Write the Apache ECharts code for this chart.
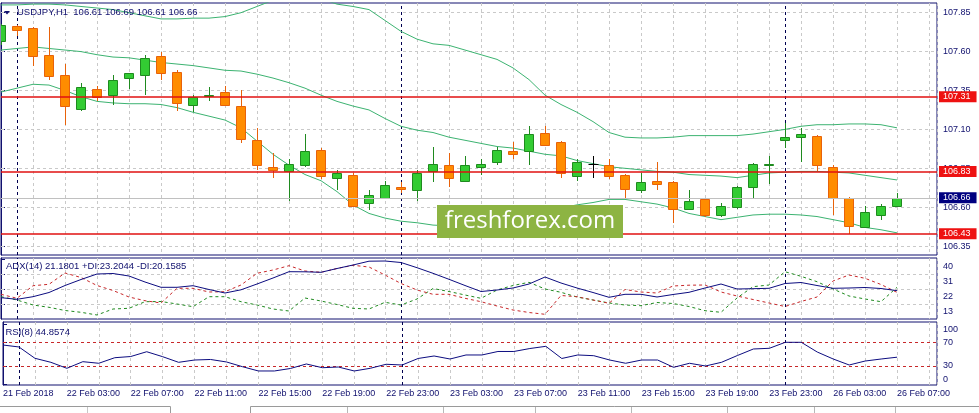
<!DOCTYPE html>
<html><head><meta charset="utf-8">
<script src="https://cdn.jsdelivr.net/npm/echarts@6/dist/echarts.min.js"></script>
<style>html,body{margin:0;padding:0;background:#fff}#c{width:979px;height:413px}</style>
</head><body><div id="c"></div>
<script>
// ---- data (USDJPY H1, 21 Feb 23:00 .. 26 Feb 07:00) ----
const open  = [107.67,107.765,107.75,107.58,107.45,107.23,107.36,107.32,107.43,107.45,107.57,107.47,107.26,107.315,107.34,107.25,107.03,106.86,106.835,106.87,106.97,106.79,106.81,106.63,106.66,106.73,106.71,106.83,106.87,106.77,106.86,106.89,106.96,106.96,107.075,107.02,106.80,106.88,106.87,106.81,106.71,106.77,106.76,106.59,106.65,106.55,106.60,106.73,106.87,107.03,107.05,107.06,106.86,106.66,106.47,106.55,106.61];
const high  = [107.78,107.77,107.755,107.76,107.52,107.40,107.38,107.45,107.465,107.58,107.60,107.48,107.32,107.37,107.38,107.35,107.11,106.95,106.91,107.07,106.98,106.84,106.82,106.71,106.77,106.76,106.84,106.99,106.95,106.93,106.91,106.99,107.02,107.12,107.12,107.025,106.91,106.93,106.91,106.815,106.82,106.89,106.77,106.71,106.655,106.625,106.735,106.885,106.93,107.14,107.11,107.065,106.87,106.665,106.61,106.62,106.69];
const low   = [107.64,107.70,107.51,107.42,107.13,107.22,107.28,107.26,107.36,107.32,107.42,107.22,107.21,107.28,107.25,107.01,106.84,106.79,106.64,106.86,106.78,106.71,106.60,106.58,106.65,106.69,106.64,106.76,106.73,106.76,106.81,106.87,106.91,106.87,106.995,106.79,106.77,106.79,106.78,106.66,106.69,106.71,106.50,106.585,106.54,106.54,106.59,106.66,106.75,106.98,106.89,106.83,106.55,106.43,106.465,106.52,106.61];
const close = [107.77,107.74,107.57,107.44,107.25,107.37,107.31,107.42,107.46,107.56,107.46,107.27,107.31,107.32,107.26,107.04,106.87,106.84,106.88,106.96,106.80,106.82,106.61,106.68,106.74,106.715,106.82,106.88,106.79,106.87,106.88,106.97,106.94,107.07,107.00,106.82,106.89,106.88,106.80,106.715,106.76,106.75,106.59,106.64,106.55,106.61,106.73,106.88,106.88,107.05,107.07,106.87,106.66,106.48,106.57,106.61,106.66];

const bbUpper  = [107.90,107.90,107.905,107.905,107.90,107.89,107.88,107.87,107.85,107.83,107.81,107.81,107.815,107.815,107.825,107.85,107.89,107.93,107.95,107.95,107.94,107.905,107.89,107.87,107.80,107.73,107.68,107.65,107.64,107.61,107.58,107.55,107.495,107.42,107.32,107.26,107.21,107.15,107.08,107.05,107.045,107.045,107.05,107.06,107.06,107.06,107.06,107.07,107.085,107.10,107.12,107.13,107.13,107.135,107.135,107.13,107.11];
const bbMiddle = [107.61,107.62,107.63,107.62,107.61,107.60,107.58,107.565,107.56,107.545,107.53,107.52,107.51,107.495,107.48,107.475,107.455,107.43,107.40,107.365,107.32,107.28,107.25,107.225,107.17,107.12,107.095,107.08,107.05,107.03,107.01,106.99,106.98,106.96,106.94,106.93,106.90,106.88,106.86,106.85,106.84,106.83,106.825,106.81,106.805,106.80,106.79,106.805,106.82,106.825,106.83,106.83,106.825,106.82,106.805,106.79,106.775];
const bbLower  = [107.34,107.365,107.39,107.385,107.35,107.31,107.28,107.27,107.265,107.265,107.26,107.24,107.21,107.185,107.16,107.11,107.025,106.94,106.87,106.81,106.77,106.70,106.615,106.56,106.53,106.51,106.50,106.485,106.48,106.48,106.485,106.50,106.52,106.545,106.57,106.595,106.615,106.63,106.65,106.65,106.635,106.62,106.595,106.56,106.54,106.52,106.535,106.55,106.555,106.555,106.55,106.54,106.52,106.50,106.47,106.455,106.435];

const adx     = [16.96,16.0,17.56,20.08,24.28,27.88,31.18,31.48,29.98,26.38,23.2,23.2,24.16,21.88,19.78,21.7,25.18,28.78,32.56,32.5,32.2,34.48,36.58,38.86,38.98,38.08,34.96,31.6,28.0,24.28,20.68,21.58,22.78,25.18,29.38,25.78,22.78,20.08,17.2,19.0,19.0,17.38,18.88,20.2,22.78,25.18,22.18,22.36,22.6,25.48,26.08,24.28,22.6,22.78,23.08,22.48,21.1801];
const plusDI  = [17.56,15.58,12.58,11.2,9.28,8.2,6.58,10.18,10.6,14.56,14.68,13.18,11.56,17.56,17.56,14.56,12.58,10.18,8.98,16.78,14.98,12.88,10.6,10.18,14.2,12.58,16.18,22.48,20.68,18.58,16.6,21.58,24.28,26.2,22.18,20.2,17.38,15.58,13.78,12.58,12.16,14.08,13.48,11.68,9.16,8.2,16.78,23.56,24.58,32.56,29.8,26.56,22.18,17.98,16.18,14.56,23.2044];
const minusDI = [19.0,16.6,24.16,25.0,31.78,29.08,24.28,21.28,17.38,15.16,13.78,22.6,22.6,20.38,20.56,24.58,31.6,33.58,36.16,32.98,32.2,34.48,36.4,35.38,30.58,25.48,21.58,19.0,19.0,16.6,14.56,11.98,9.58,8.08,7.0,18.28,17.56,15.58,13.6,21.88,20.38,19.78,23.98,24.46,24.58,20.38,17.98,15.88,13.78,11.68,14.68,17.38,26.98,30.58,28.6,24.88,20.1585];
const rsi     = [65.4,62.1,43.0,36.2,26.1,37.3,34.6,44.0,46.0,54.1,45.7,36.2,40.1,41.0,36.8,28.8,21.6,21.6,25.8,33.4,27.1,28.3,21.6,26.1,32.9,31.7,42.7,46.9,41.8,48.6,48.6,54.5,54.5,59.5,63.2,42.7,48.6,47.4,40.1,34.6,40.1,40.1,27.8,34.6,30.0,36.2,47.7,58.7,59.9,70.0,70.0,53.6,41.8,31.7,38.4,41.8,44.8574];

const tickIndex  = [0,4,8,12,16,20,24,28,32,36,40,44,48,52,56];
const tickLabels = ['21 Feb 2018','22 Feb 03:00','22 Feb 07:00','22 Feb 11:00','22 Feb 15:00','22 Feb 19:00','22 Feb 23:00','23 Feb 03:00','23 Feb 07:00','23 Feb 11:00','23 Feb 15:00','23 Feb 19:00','23 Feb 23:00','26 Feb 03:00','26 Feb 07:00'];
const separators = [1,25,49];
const priceTicks = [107.85,107.60,107.35,107.10,106.85,106.60,106.35];
const levels = [107.31,106.83,106.43];
const bid = 106.66;
const adxTicks = [40,31,22,13];
const adxGridVals = [31,22,13];
const rsiTicks = [100,70,30,0];
const rsiLevels = [70,30];

// ---- styles ----
const NAVY = '#10106e';
const FONT = '"Liberation Sans", Arial, sans-serif';
const GRIDC = '#c9c9c9';
const LEVEL_RED = '#e01010';
const X_MAX = 58.5;

const chart = echarts.init(document.getElementById('c'));

function xAx(k, labels) {
  return {
    type: 'value', gridIndex: k, min: 0, max: X_MAX, interval: 2,
    axisLine: {show: false}, axisTick: {show: false},
    axisLabel: labels ? {
      show: true, customValues: tickIndex, align: 'left', margin: 4,
      color: NAVY, fontSize: 9, fontFamily: FONT,
      formatter: v => { const j = tickIndex.indexOf(v); return j < 0 ? '' : tickLabels[j]; }
    } : {show: false},
    splitLine: {show: true, lineStyle: {color: GRIDC, type: [3, 3], width: 1}}
  };
}
function yAx(k, min, max, ticks, labelOpt) {
  return {
    type: 'value', gridIndex: k, position: 'right', min: min, max: max, scale: true,
    axisLine: {show: true, lineStyle: {color: NAVY, width: 1}},
    axisTick: {show: true, customValues: ticks, length: 4, lineStyle: {color: NAVY}},
    axisLabel: Object.assign({show: true, customValues: ticks, margin: 6, color: NAVY, fontSize: 9,
      fontFamily: FONT, hideOverlap: false}, labelOpt),
    splitLine: {show: false}
  };
}
const sepLines = separators.map(v => ({xAxis: v}));
const sepStyle = {color: '#000050', type: [3, 3], width: 1};
function hLines(vals) { return vals.map(v => ({yAxis: v})); }

const candleData = open.map((o, i) => [i, o, close[i], low[i], high[i]]);
const pair = arr => arr.map((v, i) => [i, v]);

function renderCandle(params, api) {
  const i = api.value(0), o = api.value(1), c = api.value(2), l = api.value(3), h = api.value(4);
  const pO = api.coord([i, o]), pC = api.coord([i, c]);
  const pL = api.coord([i, l]), pH = api.coord([i, h]);
  const cx = Math.floor(pO[0]) + 0.5;
  const up = c > o, dn = c < o;
  const fill = up ? '#33cc33' : (dn ? '#ff8c00' : '#000000');
  const stroke = up ? '#1f8a1f' : (dn ? '#e8620a' : '#000000');
  const yT = Math.round(Math.min(pO[1], pC[1])) + 0.5;
  const yB = Math.round(Math.max(pO[1], pC[1])) + 0.5;
  const children = [{
    type: 'line', shape: {x1: cx, y1: Math.round(pH[1]), x2: cx, y2: Math.round(pL[1])},
    style: {stroke: stroke, lineWidth: 1}
  }];
  if (up || dn) {
    children.push({type: 'rect', shape: {x: cx - 5, y: yT, width: 9, height: Math.max(0, yB - yT)},
      style: {fill: fill, stroke: stroke, lineWidth: 1}});
  } else {
    children.push({type: 'line', shape: {x1: cx - 5, y1: yT, x2: cx + 5, y2: yT},
      style: {stroke: stroke, lineWidth: 1}});
  }
  return {type: 'group', children: children};
}

const lvlLabel = (bg) => ({show: true, position: 'end', distance: 2, formatter: p => p.value.toFixed(2),
  backgroundColor: bg, color: '#ffffff', fontSize: 9, fontFamily: FONT, lineHeight: 10, padding: [1, 6, 0, 4]});

const option = {
  animation: false,
  backgroundColor: '#ffffff',
  grid: [
    {left: 1, top: 3, width: 936, height: 252, show: true, borderColor: NAVY, borderWidth: 1, backgroundColor: '#fff'},
    {left: 1, top: 258, width: 936, height: 61, show: true, borderColor: NAVY, borderWidth: 1, backgroundColor: '#fff'},
    {left: 1, top: 322, width: 936, height: 63, show: true, borderColor: NAVY, borderWidth: 1, backgroundColor: '#fff'}
  ],
  xAxis: [xAx(0, false), xAx(1, false), xAx(2, true)],
  yAxis: [
    yAx(0, 106.2928, 107.9123, priceTicks, {formatter: v => v.toFixed(2)}),
    yAx(1, 4.18, 40.78, adxTicks, {formatter: v => String(v), verticalAlign: 'top', lineHeight: 10, padding: [2, 0, 0, 0]}),
    yAx(2, -2.07, 104.26, rsiTicks, {lineHeight: 9,
      formatter: v => v === 100 ? '\n100' : (v === 0 ? '0\n' : String(v))})
  ],
  series: [
    {name: 'BB upper', type: 'line', xAxisIndex: 0, yAxisIndex: 0, data: pair(bbUpper), showSymbol: false, z: 2,
      lineStyle: {color: '#3cb371', width: 1}, silent: true,
      markLine: {silent: true, z: 1, symbol: ['none', 'none'], label: {show: false},
        data: hLines(priceTicks).map(d => Object.assign(d, {lineStyle: {color: GRIDC, type: [3, 3], width: 1}}))
          .concat(sepLines.map(d => Object.assign({}, d, {lineStyle: sepStyle})))}},
    {name: 'BB middle', type: 'line', xAxisIndex: 0, yAxisIndex: 0, data: pair(bbMiddle), showSymbol: false, z: 2,
      lineStyle: {color: '#3cb371', width: 1}, silent: true,
      markLine: {silent: true, z: 4, symbol: ['none', 'none'],
        lineStyle: {color: '#c0c0c0', type: 'solid', width: 1},
        data: [{yAxis: bid, label: lvlLabel('#000080')}]}},
    {name: 'BB lower', type: 'line', xAxisIndex: 0, yAxisIndex: 0, data: pair(bbLower), showSymbol: false, z: 2,
      lineStyle: {color: '#3cb371', width: 1}, silent: true},
    {name: 'USDJPY', type: 'custom', xAxisIndex: 0, yAxisIndex: 0, data: candleData, renderItem: renderCandle,
      encode: {x: 0, y: [1, 2, 3, 4]}, clip: true, z: 3, silent: true,
      markLine: {silent: true, z: 6, symbol: ['none', 'none'],
        lineStyle: {color: LEVEL_RED, type: 'solid', width: 1.5, opacity: 1},
        emphasis: {disabled: true},
        data: levels.map(v => ({yAxis: v, label: lvlLabel('#ee1111')}))}},
    {name: '+DI', type: 'line', xAxisIndex: 1, yAxisIndex: 1, data: pair(plusDI), showSymbol: false, z: 2,
      lineStyle: {color: '#1f8a1f', width: 1, type: [3, 3]}, silent: true,
      markLine: {silent: true, z: 1, symbol: ['none', 'none'], label: {show: false},
        data: hLines(adxGridVals).map(d => Object.assign(d, {lineStyle: {color: GRIDC, type: [3, 3], width: 1}}))
          .concat(sepLines.map(d => Object.assign({}, d, {lineStyle: sepStyle})))}},
    {name: '-DI', type: 'line', xAxisIndex: 1, yAxisIndex: 1, data: pair(minusDI), showSymbol: false, z: 2,
      lineStyle: {color: '#c8282a', width: 1, type: [3, 3]}, silent: true},
    {name: 'ADX', type: 'line', xAxisIndex: 1, yAxisIndex: 1, data: pair(adx), showSymbol: false, z: 3,
      lineStyle: {color: '#0c0c80', width: 1}, silent: true},
    {name: 'RSI', type: 'line', xAxisIndex: 2, yAxisIndex: 2, data: pair(rsi), showSymbol: false, z: 3,
      lineStyle: {color: '#0c0c80', width: 1}, silent: true,
      markLine: {silent: true, z: 1, symbol: ['none', 'none'], label: {show: false},
        data: hLines(rsiLevels).map(d => Object.assign(d, {lineStyle: {color: '#c8282a', type: [3, 3], width: 1}}))
          .concat(sepLines.map(d => Object.assign({}, d, {lineStyle: sepStyle})))}}
  ],
  graphic: [
    {type: 'polygon', z: 100, shape: {points: [[4, 11], [10, 11], [7, 14.5]]}, style: {fill: NAVY}},
    {type: 'text', z: 100, x: 17, y: 12.3, style: {text: 'USDJPY,H1  106.61 106.69 106.61 106.66', fill: NAVY,
      font: '9.5px ' + FONT, verticalAlign: 'middle'}},
    {type: 'text', z: 100, x: 6, y: 266.7, style: {text: 'ADX(14) 21.1801 +DI:23.2044 -DI:20.1585', fill: NAVY,
      font: '9.5px ' + FONT, verticalAlign: 'middle'}},
    {type: 'text', z: 100, x: 5.5, y: 332, style: {text: 'RSI(8) 44.8574', fill: NAVY,
      font: '9.5px ' + FONT, verticalAlign: 'middle'}},
    {type: 'rect', z: 100, shape: {x: 437, y: 205, width: 186, height: 33}, style: {fill: '#8db443'}},
    {type: 'text', z: 101, x: 530, y: 221, style: {text: 'freshforex.com', fill: '#ffffff',
      font: '24px "Open Sans", sans-serif', align: 'center', verticalAlign: 'middle'}},
    {type: 'polyline', z: 100, shape: {points: [[0, 406.5], [170.5, 406.5], [170.5, 413]]}, style: {stroke: '#9a9a9a', fill: null}},
    {type: 'line', z: 100, shape: {x1: 87.5, y1: 407, x2: 87.5, y2: 413}, style: {stroke: '#c8c8c8'}},
    {type: 'polyline', z: 100, shape: {points: [[250.5, 413], [250.5, 406.5], [979, 406.5]]}, style: {stroke: '#9a9a9a', fill: null}},
    {type: 'group', z: 100, children: [347, 443, 535, 631, 727, 814, 895].map(x => ({type: 'line',
      shape: {x1: x + 0.5, y1: 407, x2: x + 0.5, y2: 413}, style: {stroke: '#b8b8b8'}}))}
  ]
};
chart.setOption(option);
</script></body></html>
